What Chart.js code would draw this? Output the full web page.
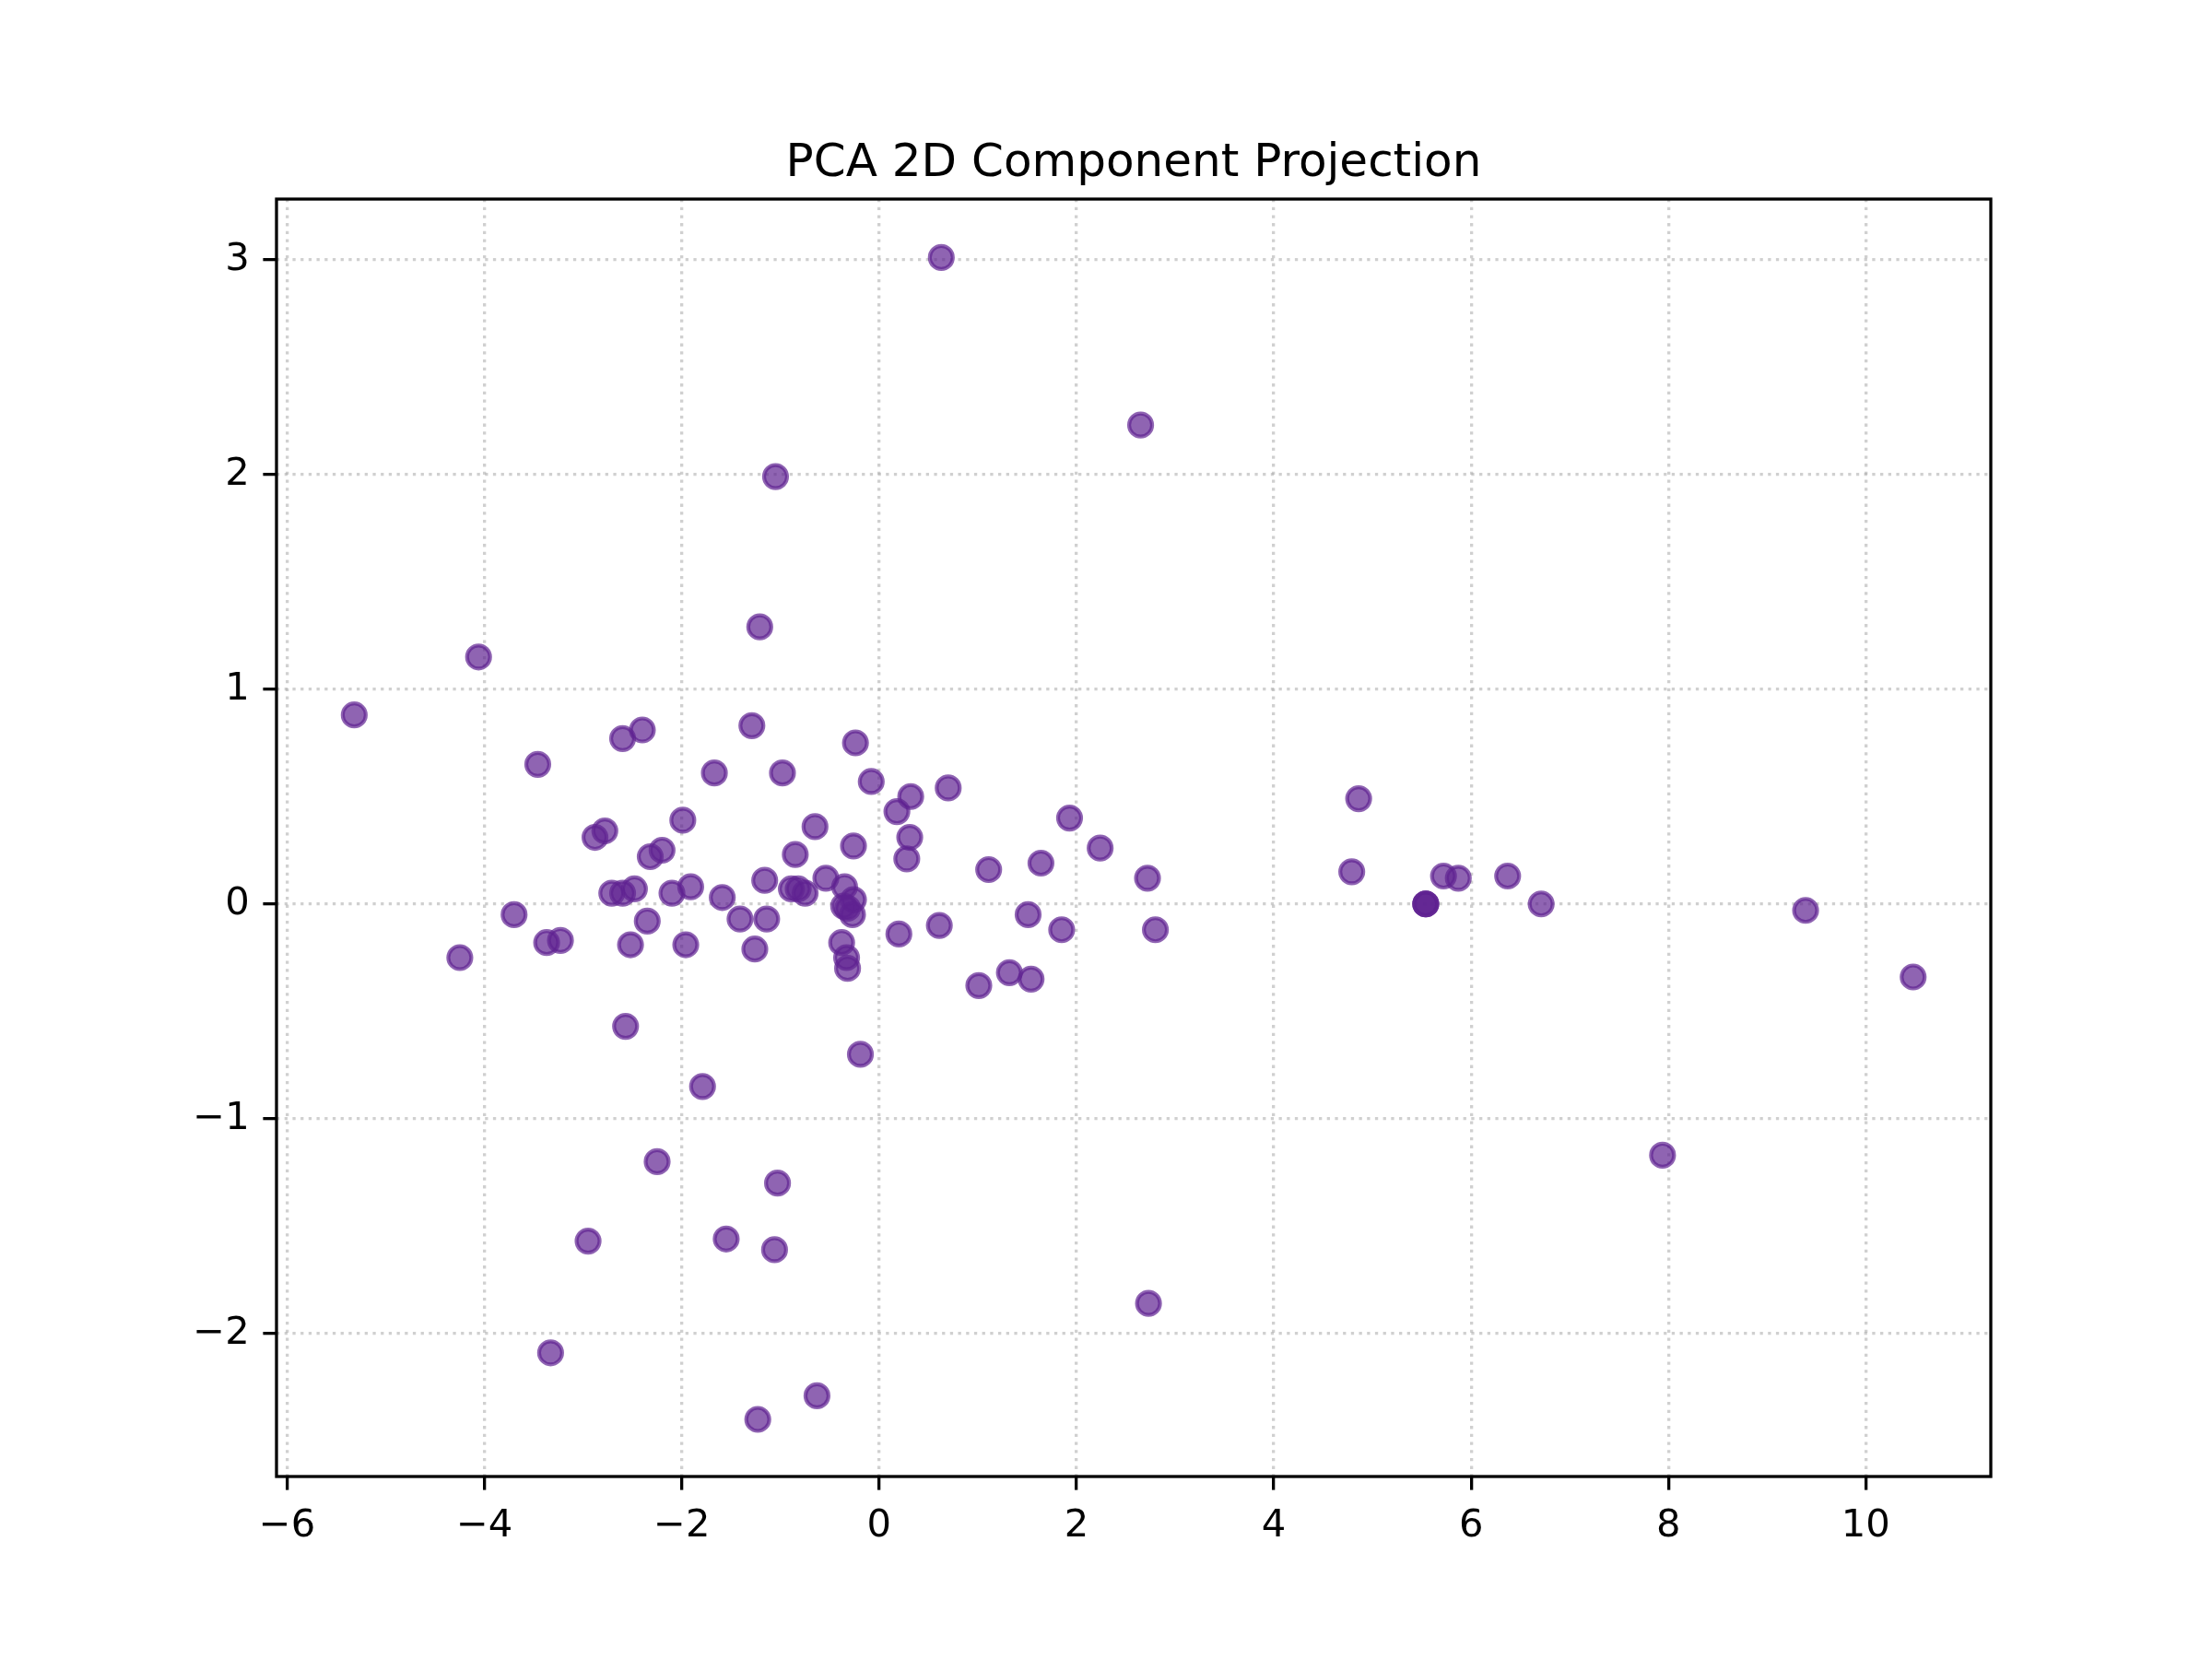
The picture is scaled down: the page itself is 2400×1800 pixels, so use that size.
<!DOCTYPE html>
<html>
<head>
<meta charset="utf-8">
<script src="https://cdn.jsdelivr.net/npm/chart.js@4/dist/chart.umd.min.js"></script>
<style>
  html, body { margin: 0; padding: 0; background: #ffffff; }
  #wrap { width: 2400px; height: 1800px; }
</style>
</head>
<body>
<div id="wrap"><canvas id="c" width="2400" height="1800"></canvas></div>
<script>
const chartTitle = "PCA 2D Component Projection";

const pc1 = [-5.32, -4.06, -4.25, -3.70, -3.46, -3.37, -3.23, -3.33, -2.95, -2.88,
             -2.78, -2.71, -2.60, -2.60, -2.57, -2.52, -2.48, -2.40, -2.35, -2.32,
             -2.25, -2.20, -2.10, -1.99, -1.96, -1.91, -1.79, -1.67, -1.59, -1.55,
             -1.41, -1.29, -1.26, -1.23, -1.21, -1.16, -1.14, -1.06, -1.05, -1.03,
             -0.98, -0.89, -0.85, -0.82, -0.75, -0.65, -0.63, -0.54, -0.38, -0.35,
             -0.36, -0.33, -0.32, -0.26, -0.27, -0.26, -0.24, -0.19, -0.08, 0.18,
             0.20, 0.28, 0.31, 0.32, 0.61, 0.63, 0.70, 1.01, 1.11, 1.32,
             1.51, 1.54, 1.64, 1.85, 1.93, 2.24, 2.65, 2.72, 2.73, 2.80,
             4.79, 4.86, 5.54, 5.54, 5.54, 5.72, 5.87, 6.37, 6.71, 7.94,
             9.39, 10.48, -0.32];

const pc2 = [0.88, 1.15, -0.25, -0.05, 0.65, -0.18, -0.17, -2.09, -1.57, 0.31,
             0.34, 0.05, 0.05, 0.77, -0.57, -0.19, 0.07, 0.81, -0.08, 0.22,
             -1.20, 0.25, 0.05, 0.39, -0.19, 0.08, -0.85, 0.61, 0.03, -1.56,
             -0.07, 0.83, -0.21, -2.40, 1.29, 0.11, -0.07, -1.61, 1.99, -1.30,
             0.61, 0.07, 0.23, 0.07, 0.05, 0.36, -2.29, 0.12, -0.18, 0.08,
             -0.01, -0.25, -0.30, 0.02, -0.05, 0.27, 0.75, -0.70, 0.57, 0.43,
             -0.14, 0.21, 0.31, 0.50, -0.10, 3.01, 0.54, -0.38, 0.16, -0.32,
             -0.05, -0.35, 0.19, -0.12, 0.40, 0.26, 2.23, 0.12, -1.86, -0.12,
             0.15, 0.49, 0.00, 0.00, 0.00, 0.13, 0.12, 0.13, 0.00, -1.17,
             -0.03, -0.34, -0.02];

const xTicks = [-6, -4, -2, 0, 2, 4, 6, 8, 10];
const yTicks = [-2, -1, 0, 1, 2, 3];
const xLimits = [-6.108, 11.267];
const yLimits = [-2.666, 3.282];

const points = pc1.map((x, i) => ({ x: x, y: pc2[i] }));

const FONT = "'DejaVu Sans', 'Liberation Sans', sans-serif";
const fmt = v => String(v).replace('-', '\u2212');

const frame = {
  id: 'frame',
  afterDatasetsDraw(chart) {
    const a = chart.chartArea, ctx = chart.ctx;
    ctx.save();
    ctx.strokeStyle = '#000000';
    ctx.lineWidth = 3.3;
    ctx.strokeRect(a.left, a.top, a.right - a.left, a.bottom - a.top);
    ctx.restore();
  }
};

const gridCommon = {
  color: 'rgba(176,176,176,0.6)',
  lineWidth: 3.3,
  drawTicks: true,
  tickLength: 14.6,
  tickWidth: 3.3,
  tickColor: '#000000'
};

new Chart(document.getElementById('c'), {
  type: 'scatter',
  data: {
    datasets: [{
      data: points,
      backgroundColor: 'rgba(95,34,145,0.7)',
      borderColor: 'rgba(95,34,145,0.7)',
      borderWidth: 4.2,
      pointRadius: 12.5,
      pointHoverRadius: 12.5
    }]
  },
  options: {
    responsive: false,
    devicePixelRatio: 1,
    animation: false,
    events: [],
    layout: { padding: { top: 148, left: 0, right: 240, bottom: 0 } },
    plugins: {
      legend: { display: false },
      tooltip: { enabled: false },
      title: {
        display: true,
        text: chartTitle,
        fullSize: false,
        color: '#000000',
        font: { family: FONT, size: 50, weight: 'normal', lineHeight: 1.2 },
        padding: { top: 0, bottom: 8 }
      }
    },
    scales: {
      x: {
        type: 'linear',
        position: 'bottom',
        min: xLimits[0],
        max: xLimits[1],
        afterBuildTicks: s => { s.ticks = xTicks.map(v => ({ value: v })); },
        afterFit: s => { s.height = 198; },
        grid: gridCommon,
        border: { display: false, dash: [3.3, 5.4] },
        ticks: {
          color: '#000000',
          padding: 14.6,
          maxRotation: 0,
          autoSkip: false,
          font: { family: FONT, size: 41.7 },
          callback: v => fmt(v)
        }
      },
      y: {
        type: 'linear',
        position: 'left',
        min: yLimits[0],
        max: yLimits[1],
        afterBuildTicks: s => { s.ticks = yTicks.map(v => ({ value: v })); },
        afterFit: s => { s.width = 300; },
        grid: gridCommon,
        border: { display: false, dash: [3.3, 5.4] },
        ticks: {
          color: '#000000',
          padding: 14.6,
          autoSkip: false,
          font: { family: FONT, size: 41.7 },
          callback: v => fmt(v)
        }
      }
    }
  },
  plugins: [frame]
});
</script>
</body>
</html>
